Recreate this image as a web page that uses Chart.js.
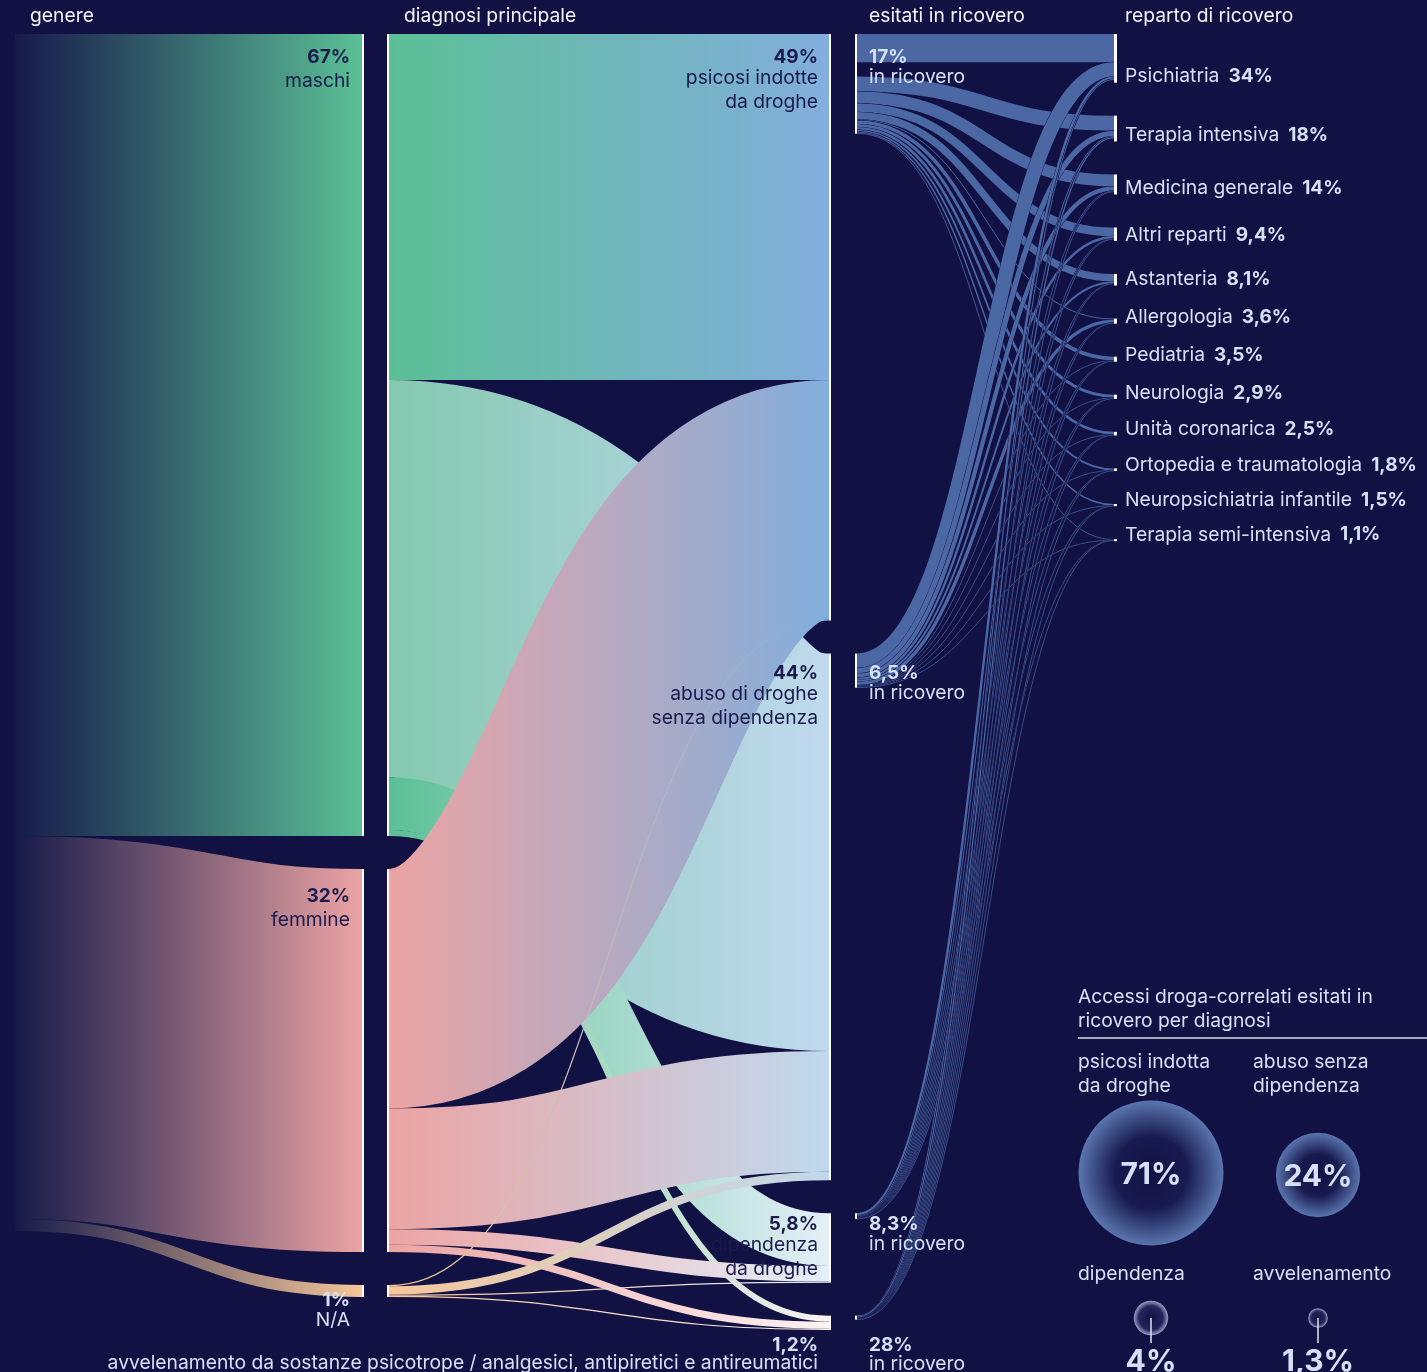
<!DOCTYPE html>
<html>
<head>
<meta charset="utf-8">
<script src="https://cdn.jsdelivr.net/npm/chart.js@4.4.1/dist/chart.umd.min.js"></script>
<style>
html,body{margin:0;padding:0;background:#121144;overflow:hidden;}
canvas{display:block;}
</style>
</head>
<body>
<canvas id="c" width="1427" height="1372"></canvas>
<script>
// ---------------- DATA ----------------
const headers = ['genere', 'diagnosi principale', 'esitati in ricovero', 'reparto di ricovero'];

const genderNames = [['maschi'], ['femmine'], ['N/A']];
const genderPct = [67, 32, 1];
const genderPctLabels = ['67%', '32%', '1%'];

const diagnosisNames = [
  ['psicosi indotte', 'da droghe'],
  ['abuso di droghe', 'senza dipendenza'],
  ['dipendenza', 'da droghe'],
  ['avvelenamento da sostanze psicotrope / analgesici, antipiretici e antireumatici']
];
const diagnosisPct = [49, 44, 5.8, 1.2];
const diagnosisPctLabels = ['49%', '44%', '5,8%', '1,2%'];

// flows genere -> diagnosi (% of all accesses), columns follow diagnosisPct
const maschiToDiagnosis = [28.9, 33.2, 4.4, 0.5];
const femmineToDiagnosis = [20.0, 10.1, 1.3, 0.6];
const naToDiagnosis = [0.1, 0.7, 0.1, 0.1];

// share of each diagnosis that ended in hospital admission
const ricoveroPct = [17, 6.5, 8.3, 28];
const ricoveroPctLabels = ['17%', '6,5%', '8,3%', '28%'];

const repartoNames = ['Psichiatria', 'Terapia intensiva', 'Medicina generale', 'Altri reparti', 'Astanteria',
  'Allergologia', 'Pediatria', 'Neurologia', 'Unità coronarica', 'Ortopedia e traumatologia',
  'Neuropsichiatria infantile', 'Terapia semi-intensiva'];
const repartoPct = [34, 18, 14, 9.4, 8.1, 3.6, 3.5, 2.9, 2.5, 1.8, 1.5, 1.1];
const repartoPctLabels = ['34%', '18%', '14%', '9,4%', '8,1%', '3,6%', '3,5%', '2,9%', '2,5%', '1,8%', '1,5%', '1,1%'];

// flows diagnosi (ricovero) -> reparto (% of all accesses), columns follow repartoNames
const psicosiToReparto = [2.35, 1.25, 1.0, 0.72, 0.62, 0.08, 0.3, 0.25, 0.22, 0.15, 0.12, 0.07];
const abusoToReparto = [1.2, 0.45, 0.35, 0.2, 0.16, 0.28, 0.05, 0.04, 0.03, 0.03, 0.03, 0.02];
const dipendenzaToReparto = [0.2, 0.08, 0.06, 0.04, 0.02, 0.01, 0.01, 0.02, 0.01, 0.01, 0.01, 0.01];
const avvelenamentoToReparto = [0.08, 0.1, 0.06, 0.02, 0.02, 0.01, 0.01, 0.01, 0.01, 0.01, 0.005, 0.005];

const cardTitle = ['Accessi droga-correlati esitati in', 'ricovero per diagnosi'];
const cardNames = [['psicosi indotta', 'da droghe'], ['abuso senza', 'dipendenza'], ['dipendenza'], ['avvelenamento']];
const cardPct = [71, 24, 4, 1.3];
const cardPctLabels = ['71%', '24%', '4%', '1,3%'];

// ---------------- STYLE / LAYOUT ----------------
const BG = '#121144';
const GAP = 2.757;
const COL = { c0: 15, c1: 362, c2a: 389, c2b: 829, c3: 857, c4: 1114 };
const genderColor = ['#5bc096', '#eca4a4', '#f6c79a'];
const diagColor = ['#82aedc', '#c0d9ee', '#e4eff8', '#fdf3f3'];
const linkStartOverride = { '0-1': '#84c9b0' };
const RIC_COLOR = '#4b67a4';
const DARK = '#1b1a4c';
const LIGHT = '#d6e1f5';
const WHITE = '#f4f4f8';
const FONT = 'Inter, "Noto Sans", sans-serif';
const REG = '400 19.3px ' + FONT;
const BOLD = '700 19px ' + FONT;
const genderLabelDy = [23, 27, 15];
const genderLabelDark = [true, true, false];
const diagLabelDy = [23, 20, 11, 30];
const diagLabelDark = [true, true, true, false];

const sum = a => a.reduce((s, v) => s + v, 0);
const yMax = sum(diagnosisPct) + GAP * (diagnosisPct.length - 1);

function stackNodes(values, gap) {
  let acc = 0;
  return values.map(v => { const n = { y0: acc, y1: acc + v }; acc += v + gap; return n; });
}

const sankeyPlugin = {
  id: 'sankeyPlugin',
  beforeDraw(chart) {
    const c = chart.ctx;
    c.save(); c.fillStyle = BG; c.fillRect(0, 0, chart.width, chart.height); c.restore();
  },
  afterDatasetsDraw(chart) {
    const c = chart.ctx;
    const xs = chart.scales.x, ys = chart.scales.y;
    const px = v => xs.getPixelForValue(v);
    const py = v => ys.getPixelForValue(v);

    const leftNodes = stackNodes(genderPct, 0);
    const genderNodes = stackNodes(genderPct, GAP);
    const diagNodes = stackNodes(diagnosisPct, GAP);
    const ricNodes = diagNodes.map((d, i) => ({ y0: d.y0, y1: d.y0 + ricoveroPct[i] / 100 * diagnosisPct[i] }));
    const totalRic = sum(ricNodes.map(n => n.y1 - n.y0));
    const repSum = sum(repartoPct);
    const repNodes = stackNodes(repartoPct.map(p => p / repSum * totalRic), GAP);

    function strokeLink(x0, ya, yb, x1, ta, tb, style, minW, extra) {
      const y0 = (py(ya) + py(yb)) / 2, y1 = (py(ta) + py(tb)) / 2;
      let w = py(yb) - py(ya);
      if (minW) w = Math.max(w, minW);
      if (extra) w += extra;
      const xa = px(x0), xb = px(x1), xm = (xa + xb) / 2;
      c.beginPath();
      c.moveTo(xa, y0);
      c.bezierCurveTo(xm, y0, xm, y1, xb, y1);
      c.lineWidth = w; c.lineCap = 'butt'; c.strokeStyle = style;
      c.stroke();
    }
    function grad(x0, x1, stops) {
      const g = c.createLinearGradient(px(x0), 0, px(x1), 0);
      stops.forEach(s => g.addColorStop(s[0], s[1]));
      return g;
    }
    function nodeLine(x, n, w, color, minH) {
      const a = py(n.y0); let h = py(n.y1) - a;
      if (minH) h = Math.max(h, minH);
      c.fillStyle = color; c.fillRect(px(x), a, w, h);
    }
    function txt(s, x, y, font, color, align) {
      c.font = font; c.fillStyle = color; c.textAlign = align || 'left'; c.textBaseline = 'middle';
      c.fillText(s, x, y);
    }

    c.save();
    // ---- column 1 : genere ----
    genderPct.forEach((v, g) => {
      const L = leftNodes[g], N = genderNodes[g];
      strokeLink(COL.c0, L.y0, L.y1, COL.c1, N.y0, N.y1,
        grad(COL.c0, COL.c1, [[0, '#161a4a'], [1, genderColor[g]]]));
    });
    genderNodes.forEach(n => nodeLine(COL.c1, n, 2, '#ffffff'));

    // ---- column 2 : genere -> diagnosi ----
    const flowsGD = [maschiToDiagnosis, femmineToDiagnosis, naToDiagnosis];
    const sOff = genderNodes.map(n => n.y0), tOff = diagNodes.map(n => n.y0);
    flowsGD.forEach((row, g) => row.forEach((v, d) => {
      const sy = sOff[g], ty = tOff[d];
      sOff[g] += v; tOff[d] += v;
      const start = linkStartOverride[g + '-' + d] || genderColor[g];
      strokeLink(COL.c2a, sy, sy + v, COL.c2b, ty, ty + v,
        grad(COL.c2a, COL.c2b, [[0, start], [1, diagColor[d]]]));
    }));
    genderNodes.forEach(n => nodeLine(COL.c2a - 2, n, 2, '#ffffff'));
    diagNodes.forEach(n => nodeLine(COL.c2b, n, 2, '#ffffff'));

    // ---- column 3 : ricovero -> reparto ----
    const flowsDR = [psicosiToReparto, abusoToReparto, dipendenzaToReparto, avvelenamentoToReparto];
    const rOff = repNodes.map(n => n.y0);
    flowsDR.forEach((row, d) => {
      let sy = ricNodes[d].y0;
      const leftover = Math.max(0, (ricNodes[d].y1 - ricNodes[d].y0) - sum(row));
      row.forEach((v, r) => {
        const ty = rOff[r];
        rOff[r] += v;
        strokeLink(COL.c3, sy, sy + v, COL.c4, ty, ty + v, BG, 0.7, 0.7);
        strokeLink(COL.c3, sy, sy + v, COL.c4, ty, ty + v, RIC_COLOR, 0.7);
        sy += v;
        if (r === 0) sy += leftover;
      });
    });
    ricNodes.forEach(n => nodeLine(COL.c3 - 2, n, 2, '#ffffff', 2));
    repNodes.forEach(n => nodeLine(COL.c4, n, 3, '#ffffff', 2));

    // ---- headers ----
    const hx = [30, 404, 869, 1125];
    headers.forEach((h, i) => txt(h, hx[i], 16, REG, WHITE));

    // ---- gender labels ----
    genderNodes.forEach((n, g) => {
      const y = py(n.y0) + genderLabelDy[g];
      const col = genderLabelDark[g] ? DARK : LIGHT;
      txt(genderPctLabels[g], 350, y, BOLD, col, 'right');
      genderNames[g].forEach((s, k) => txt(s, 350, y + (g === 2 ? 20 : 24) + k * 24, REG, col, 'right'));
    });

    // ---- diagnosis labels + ricovero labels ----
    diagNodes.forEach((n, d) => {
      const y = py(n.y0) + diagLabelDy[d];
      const col = diagLabelDark[d] ? DARK : LIGHT;
      txt(diagnosisPctLabels[d], 818, y, BOLD, col, 'right');
      const off = diagnosisNames[d].length === 1 ? 18 : 21;
      diagnosisNames[d].forEach((s, k) => txt(s, 818, y + off + k * 24, REG, col, 'right'));
      txt(ricoveroPctLabels[d], 869, y, BOLD, LIGHT, 'left');
      txt('in ricovero', 869, y + (d === 3 ? 19 : 20), REG, LIGHT, 'left');
    });

    // ---- reparto labels ----
    repNodes.forEach((n, r) => {
      const y = py(n.y1) - 6;
      c.font = REG;
      const w = c.measureText(repartoNames[r]).width;
      txt(repartoNames[r], 1125, y, REG, LIGHT);
      txt(repartoPctLabels[r], 1125 + w + 9, y, BOLD, LIGHT);
    });

    // ---- card ----
    txt(cardTitle[0], 1078, 997, REG, LIGHT);
    txt(cardTitle[1], 1078, 1021, REG, LIGHT);
    c.fillStyle = '#a7a7bb'; c.fillRect(1078, 1037, 349, 2);
    const nx = [1078, 1253, 1078, 1253];
    const cx = [1151, 1318, 1151, 1318];
    const nameY = [1062, 1062, 1274, 1274];
    const cy = [1173, 1175, 1318, 1318];
    cardPct.forEach((p, i) => {
      cardNames[i].forEach((s, k) => txt(s, nx[i], nameY[i] + k * 24, REG, LIGHT));
      const r = 8.6 * Math.sqrt(p);
      const g = c.createRadialGradient(cx[i], cy[i], 0, cx[i], cy[i], r);
      if (i < 2) {
        g.addColorStop(0, '#121144'); g.addColorStop(0.5, '#181b50'); g.addColorStop(1, '#5a75ae');
      } else {
        g.addColorStop(0, '#121144'); g.addColorStop(0.7, '#24255c'); g.addColorStop(1, '#9d9dc2');
      }
      c.beginPath(); c.arc(cx[i], cy[i], r, 0, Math.PI * 2); c.fillStyle = g; c.fill();
      if (i < 2) {
        txt(cardPctLabels[i], cx[i], cy[i] + 2, '700 30px ' + FONT, LIGHT, 'center');
      } else {
        c.strokeStyle = '#e3e8f5'; c.lineWidth = 1.5;
        c.beginPath(); c.moveTo(cx[i], cy[i]); c.lineTo(cx[i], cy[i] + 25); c.stroke();
        txt(cardPctLabels[i], cx[i], 1362, '700 30px ' + FONT, LIGHT, 'center');
      }
    });
    c.restore();
  }
};

new Chart(document.getElementById('c').getContext('2d'), {
  type: 'scatter',
  data: { datasets: [{ data: [], pointRadius: 0 }] },
  options: {
    responsive: false,
    animation: false,
    devicePixelRatio: 1,
    layout: { padding: { top: 34, bottom: 42, left: 0, right: 0 } },
    plugins: { legend: { display: false }, tooltip: { enabled: false } },
    scales: {
      x: { type: 'linear', display: false, min: 0, max: 1427 },
      y: { type: 'linear', display: false, min: 0, max: yMax, reverse: true }
    }
  },
  plugins: [sankeyPlugin]
});
</script>
</body>
</html>
